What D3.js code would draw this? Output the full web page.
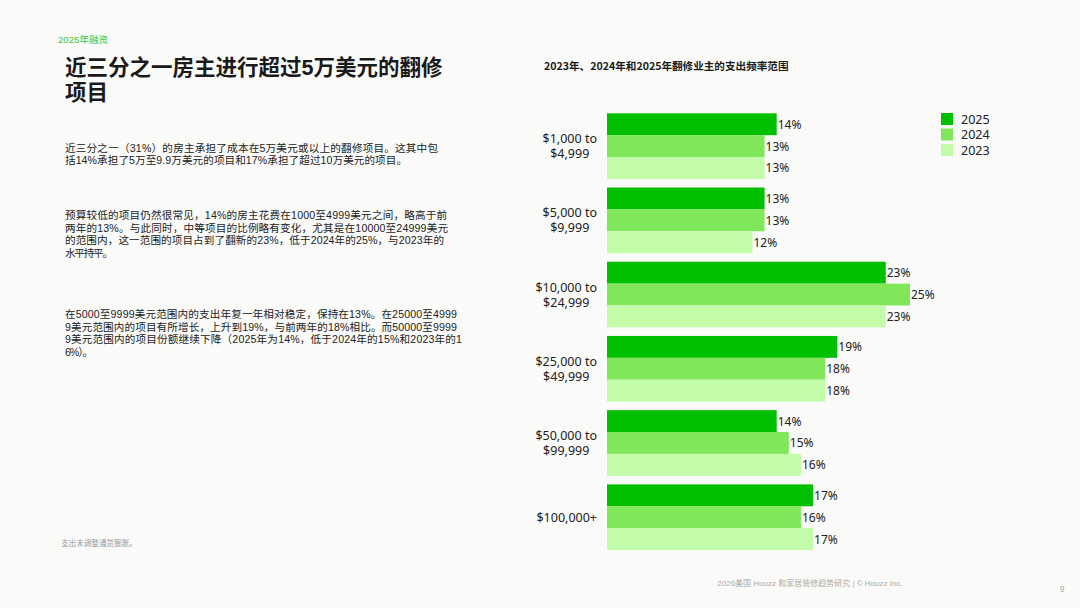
<!DOCTYPE html>
<html>
<head>
<meta charset="utf-8">
<script src="https://cdn.jsdelivr.net/npm/d3@7"></script>
<style>
  html, body { margin: 0; padding: 0; background: #fafaf8; }
  svg { display: block; }
</style>
</head>
<body>
<div id="chart"></div>
<script>
// ---- data ----
const categories = [
  ["$1,000 to", "$4,999"],
  ["$5,000 to", "$9,999"],
  ["$10,000 to", "$24,999"],
  ["$25,000 to", "$49,999"],
  ["$50,000 to", "$99,999"],
  ["$100,000+"]
];
const years = ["2025", "2024", "2023"];
const values2025 = [14, 13, 23, 19, 14, 17];
const values2024 = [13, 13, 25, 18, 15, 16];
const values2023 = [13, 12, 23, 18, 16, 17];
const colors = { "2025": "#00be00", "2024": "#80e75a", "2023": "#c2fca8" };

const kicker = "2025年融资";
const headline = ["近三分之一房主进行超过5万美元的翻修", "项目"];
const chartTitle = "2023年、2024年和2025年翻修业主的支出频率范围";
const paragraphs = [
  { top: 147.5, lines: [
    ["近三分之一（31%）的房主承担了成本在5万美元或以上的翻修项目。这其中包", 373],
    ["括14%承担了5万至9.9万美元的项目和17%承担了超过10万美元的项目。", 342]
  ]},
  { top: 215, lines: [
    ["预算较低的项目仍然很常见，14%的房主花费在1000至4999美元之间，略高于前", 382],
    ["两年的13%。与此同时，中等项目的比例略有变化，尤其是在10000至24999美元", 383],
    ["的范围内，这一范围的项目占到了翻新的23%，低于2024年的25%，与2023年的", 379],
    ["水平持平。", 48]
  ]},
  { top: 314, lines: [
    ["在5000至9999美元范围内的支出年复一年相对稳定，保持在13%。在25000至4999", 392],
    ["9美元范围内的项目有所增长，上升到19%，与前两年的18%相比。而50000至9999", 392],
    ["9美元范围内的项目份额继续下降（2025年为14%，低于2024年的15%和2023年的1", 397],
    ["6%）。", 28]
  ]}
];
const footnote = "支出未调整通货膨胀。";
const footer = "2026美国 Houzz 和家居装修趋势研究 | © Houzz Inc.";
const pageNo = "9";

const series = {
  "2025": values2025,
  "2024": values2024,
  "2023": values2023
};

// ---- layout ----
const W = 1080, H = 608;
const cjk = "'Liberation Sans', 'Noto Sans CJK SC', sans-serif";
const chartFont = "'Noto Sans', 'Noto Sans CJK SC', sans-serif";

const svg = d3.select("#chart").append("svg")
  .attr("width", W)
  .attr("height", H)
  .attr("viewBox", `0 0 ${W} ${H}`);

svg.append("rect").attr("width", W).attr("height", H).attr("fill", "#fafaf8");

// kicker
svg.append("text")
  .attr("x", 58).attr("y", 39)
  .attr("dominant-baseline", "central")
  .attr("font-family", cjk)
  .attr("font-size", 9.6)
  .attr("fill", "#3cc83c")
  .text(kicker);

// headline
svg.append("g").selectAll("text")
  .data(headline)
  .join("text")
  .attr("x", 65)
  .attr("y", (d, i) => 68 + i * 25)
  .attr("dominant-baseline", "central")
  .attr("font-family", cjk)
  .attr("font-weight", "bold")
  .attr("font-size", 21.5)
  .attr("fill", "#1a1a1a")
  .text(d => d);

// body paragraphs
paragraphs.forEach(p => {
  svg.append("g").selectAll("text")
    .data(p.lines)
    .join("text")
    .attr("x", 65)
    .attr("y", (d, i) => p.top + i * 12.5)
    .attr("dominant-baseline", "central")
    .attr("font-family", cjk)
    .attr("font-size", 10.6)
    .attr("fill", "#222")
    .attr("textLength", d => d[1])
    .attr("lengthAdjust", "spacing")
    .text(d => d[0]);
});

// footnote
svg.append("text")
  .attr("x", 61).attr("y", 543)
  .attr("dominant-baseline", "central")
  .attr("font-family", cjk)
  .attr("font-size", 7.6)
  .attr("fill", "#999")
  .text(footnote);

// footer
svg.append("text")
  .attr("x", 810).attr("y", 583)
  .attr("text-anchor", "middle")
  .attr("dominant-baseline", "central")
  .attr("font-family", cjk)
  .attr("font-size", 8)
  .attr("fill", "#aaa")
  .text(footer);

svg.append("text")
  .attr("x", 1062).attr("y", 589)
  .attr("text-anchor", "middle")
  .attr("dominant-baseline", "central")
  .attr("font-family", cjk)
  .attr("font-size", 8.5)
  .attr("fill", "#aaa")
  .text(pageNo);

// chart title
svg.append("text")
  .attr("x", 544).attr("y", 65)
  .attr("dominant-baseline", "central")
  .attr("font-family", "'Noto Sans CJK SC', sans-serif")
  .attr("font-weight", "bold")
  .attr("font-size", 10.6)
  .attr("fill", "#1a1a1a")
  .text(chartTitle);

// ---- bar chart ----
const x0 = 607;
const x = d3.scaleLinear().domain([0, 25]).range([0, 303]);
const catKeys = categories.map(c => c.join(" "));
const y = d3.scaleBand()
  .domain(catKeys)
  .range([113.3, 550])
  .paddingInner(0.116)
  .paddingOuter(0);
const ySub = d3.scaleBand()
  .domain(years)
  .range([0, y.bandwidth()])
  .padding(0);

const rows = [];
catKeys.forEach((k, i) => {
  years.forEach(yr => rows.push({ cat: k, year: yr, value: series[yr][i] }));
});

const plot = svg.append("g").attr("transform", `translate(${x0},0)`);

plot.selectAll("rect.bar")
  .data(rows)
  .join("rect")
  .attr("class", "bar")
  .attr("x", 0)
  .attr("y", d => y(d.cat) + ySub(d.year))
  .attr("width", d => x(d.value))
  .attr("height", ySub.bandwidth())
  .attr("fill", d => colors[d.year]);

plot.selectAll("text.val")
  .data(rows)
  .join("text")
  .attr("class", "val")
  .attr("x", d => x(d.value) + 1)
  .attr("y", d => y(d.cat) + ySub(d.year) + ySub.bandwidth() / 2)
  .attr("dominant-baseline", "central")
  .attr("font-family", chartFont)
  .attr("font-size", 12)
  .attr("fill", "#222")
  .text(d => d.value + "%");

// category labels: lines centred within a block right-aligned at 597
const labelG = svg.append("g");
categories.forEach((lines, i) => {
  const g = labelG.append("g");
  const cy = y(catKeys[i]) + y.bandwidth() / 2;
  const lh = 15;
  const texts = g.selectAll("text")
    .data(lines)
    .join("text")
    .attr("y", (d, j) => cy + (j - (lines.length - 1) / 2) * lh)
    .attr("dominant-baseline", "central")
    .attr("text-anchor", "middle")
    .attr("font-family", chartFont)
    .attr("font-size", 12.5)
    .attr("fill", "#222")
    .text(d => d);
  let maxW = 0;
  texts.each(function() { maxW = Math.max(maxW, this.getComputedTextLength()); });
  texts.attr("x", 597 - maxW / 2);
});

// legend
const legend = svg.append("g").attr("transform", "translate(941,113)");
const ly = d3.scaleBand().domain(years).range([0, 46.5]);
legend.selectAll("rect")
  .data(years)
  .join("rect")
  .attr("x", 0)
  .attr("y", d => ly(d))
  .attr("width", 12)
  .attr("height", 12)
  .attr("fill", d => colors[d]);
legend.selectAll("text")
  .data(years)
  .join("text")
  .attr("x", 20)
  .attr("y", d => ly(d) + 6)
  .attr("dominant-baseline", "central")
  .attr("font-family", chartFont)
  .attr("font-size", 12.5)
  .attr("fill", "#222")
  .text(d => d);
</script>
</body>
</html>
